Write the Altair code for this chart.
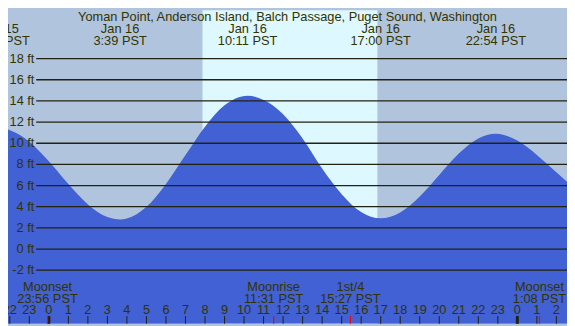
import altair as alt
import pandas as pd

# ---- data ----
# tide curve: hours relative to Jan 16 00:00 PST, height in ft
tide_hours = [-3, -2.52, -2, -1, 0, 1, 2, 3, 3.65, 4, 5, 6, 7, 8, 9, 10.18,
              11, 12, 13, 14, 15, 16, 17, 18, 19, 20, 21, 22, 22.9, 24, 25, 26, 27]
tide_ft = [11.35, 11.4, 11.24, 10.15, 8.29, 6.14, 4.22, 3.03, 2.8, 2.88, 3.99, 6.16,
           8.88, 11.57, 13.58, 14.5, 14.09, 12.75, 10.45, 7.61, 5.19, 3.5, 2.9, 3.45,
           4.96, 7.0, 9.02, 10.45, 10.9, 10.25, 8.9, 7.25, 5.6]

ext_hours = [-2.52, 3.65, 10.18, 17.0, 22.9]
ext_dates = ["Jan 15", "Jan 16", "Jan 16", "Jan 16", "Jan 16"]
ext_times = ["21:29 PST", "3:39 PST", "10:11 PST", "17:00 PST", "22:54 PST"]

moon_hours = [-0.067, 11.517, 15.45, 25.133]
moon_events = ["Moonset", "Moonrise", "1st/4", "Moonset"]
moon_times = ["23:56 PST", "11:31 PST", "15:27 PST", "1:08 PST"]

sunrise_hour = 7.87
sunset_hour = 16.83

hour_ticks = [-2, -1, 0, 1, 2, 3, 4, 5, 6, 7, 8, 9, 10, 11, 12, 13, 14, 15, 16,
              17, 18, 19, 20, 21, 22, 23, 24, 25, 26]
hour_labels = ["22", "23", "0", "1", "2", "3", "4", "5", "6", "7", "8", "9", "10",
               "11", "12", "13", "14", "15", "16", "17", "18", "19", "20", "21",
               "22", "23", "0", "1", "2"]
midnight_ticks = [0, 24]

grid_ft = [-2, 0, 2, 4, 6, 8, 10, 12, 14, 16, 18]
grid_labels = ["-2 ft", "0 ft", "2 ft", "4 ft", "6 ft", "8 ft", "10 ft", "12 ft",
               "14 ft", "16 ft", "18 ft"]

title_text = "Yoman Point, Anderson Island, Balch Passage, Puget Sound, Washington"

# ---- styling ----
W, H = 567, 318
SY = H / 326.0
NIGHT = "#b0c4de"
DAY = "#def8ff"
WATER = "#4161d5"
INK = "#333300"
FONT = "Liberation Sans"
FS = 13
Y_LO, Y_HI = -7.06, 22.57

xs = alt.Scale(domain=[-2.092, 26.544], nice=False, zero=False)
ys = alt.Scale(domain=[Y_LO, Y_HI], nice=False, zero=False)

tide_df = pd.DataFrame({"t": tide_hours, "h": tide_ft})
ext_df = pd.DataFrame({"t": ext_hours, "d": ext_dates, "tm": ext_times})
moon_df = pd.DataFrame({"t": moon_hours, "e": moon_events, "tm": moon_times})
hour_df = pd.DataFrame({"t": hour_ticks, "lbl": hour_labels})
mid_df = pd.DataFrame({"t": midnight_ticks})
grid_df = pd.DataFrame({"g": grid_ft, "lbl": grid_labels})
sun_df = pd.DataFrame({"a": [sunrise_hour], "b": [sunset_hour]})
title_df = pd.DataFrame({"txt": [title_text]})

X = lambda f: alt.X(f, type="quantitative", scale=xs, axis=None)
Y = lambda f: alt.Y(f, type="quantitative", scale=ys, axis=None)

day = alt.Chart(sun_df).mark_rect(color=DAY).encode(
    x=X("a"), x2="b", y=alt.value(0), y2=alt.value(H))

water = alt.Chart(tide_df).mark_area(color=WATER, interpolate="monotone", clip=True).encode(
    x=X("t"), y=Y("h"), y2=alt.datum(Y_LO))

grid = alt.Chart(grid_df).mark_rule(color="#222210", strokeWidth=1.3).encode(
    x=alt.value(28.6), x2=alt.value(W), y=Y("g"))

ylab = alt.Chart(grid_df).mark_text(align="right", baseline="middle", font=FONT,
                                    fontSize=FS, color=INK).encode(
    x=alt.value(26.8), y=Y("g"), text="lbl:N")

title = alt.Chart(title_df).mark_text(align="center", baseline="alphabetic", font=FONT,
                                      fontSize=FS, color=INK).encode(
    x=alt.value(W / 2), y=alt.value(11 * SY), text="txt:N")

ext_d = alt.Chart(ext_df).mark_text(align="center", baseline="alphabetic", font=FONT,
                                    fontSize=FS, color=INK).encode(
    x=X("t"), y=alt.value(24 * SY), text="d:N")
ext_t = alt.Chart(ext_df).mark_text(align="center", baseline="alphabetic", font=FONT,
                                    fontSize=FS, color=INK).encode(
    x=X("t"), y=alt.value(36.2 * SY), text="tm:N")

moon_e = alt.Chart(moon_df).mark_text(align="center", baseline="alphabetic", font=FONT,
                                      fontSize=FS, color=INK).encode(
    x=X("t"), y=alt.value(291.7 * SY), text="e:N")
moon_t = alt.Chart(moon_df).mark_text(align="center", baseline="alphabetic", font=FONT,
                                      fontSize=FS, color=INK).encode(
    x=X("t"), y=alt.value(304 * SY), text="tm:N")

hour_lab = alt.Chart(hour_df).mark_text(align="center", baseline="alphabetic", font=FONT,
                                        fontSize=FS, color=INK).encode(
    x=X("t"), y=alt.value(316 * SY), text="lbl:N")

ticks = alt.Chart(hour_df).mark_rule(color="#222210", strokeWidth=1).encode(
    x=X("t"), y=alt.value(318 * SY), y2=alt.value(H))
mid_ticks = alt.Chart(mid_df).mark_rule(color="#222210", strokeWidth=3).encode(
    x=X("t"), y=alt.value(318 * SY), y2=alt.value(H))
moon_ticks = alt.Chart(moon_df).mark_rule(color="#ff0000", strokeWidth=1.2).encode(
    x=X("t"), y=alt.value(318 * SY), y2=alt.value(H))

chart = alt.layer(day, water, grid, ylab, title, ext_d, ext_t, moon_e, moon_t,
                  hour_lab, ticks, mid_ticks, moon_ticks).properties(
    width=W, height=H, background=NIGHT, padding=0,
    autosize=alt.AutoSizeParams(type="none")
).configure_view(stroke=None)

chart.save("out.html", embed_options={"renderer": "svg", "actions": False})
